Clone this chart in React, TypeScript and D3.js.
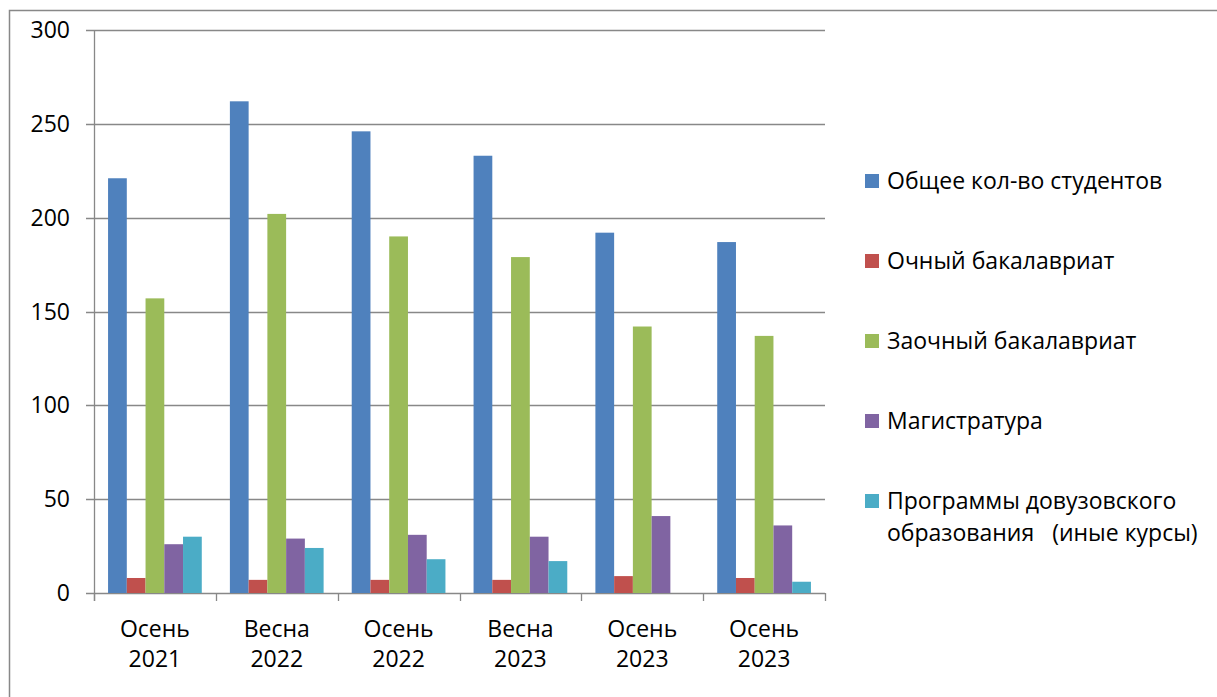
import React, { useEffect, useRef } from 'react';
import * as d3 from 'd3';

// categories (two-line labels)
const periods = ['Осень\n2021', 'Весна\n2022', 'Осень\n2022', 'Весна\n2023', 'Осень\n2023', 'Осень\n2023'];

const seriesNames = [
  'Общее кол-во студентов',
  'Очный бакалавриат',
  'Заочный бакалавриат',
  'Магистратура',
  'Программы довузовского\nобразования   (иные курсы)',
];
const seriesColors = ['#4F81BD', '#C0504D', '#9BBB59', '#8064A2', '#4BACC6'];

const totalStudents = [221, 262, 246, 233, 192, 187];
const fullTimeBachelor = [8, 7, 7, 7, 9, 8];
const extramuralBachelor = [157, 202, 190, 179, 142, 137];
const masters = [26, 29, 31, 30, 41, 36];
const preUniversity = [30, 24, 18, 17, 0, 6];

const yTicks = [0, 50, 100, 150, 200, 250, 300];

const seriesValues = [totalStudents, fullTimeBachelor, extramuralBachelor, masters, preUniversity];

const App: React.FC = () => {
  const svgRef = useRef<SVGSVGElement>(null);

  useEffect(() => {
    if (!svgRef.current) return;
    const width = 1217;
    const height = 697;
    const plot = { left: 94, right: 825, top: 30, bottom: 593 };
    const font = '"Open Sans", sans-serif';
    const fs = 23;
    const gray = '#888888';

    const svg = d3.select(svgRef.current);
    svg.selectAll('*').remove();

    svg.append('rect').attr('width', width).attr('height', height).attr('fill', '#fff');

    // outer chart border (only top and left visible)
    svg.append('path')
      .attr('d', `M9.5,${height + 5} V10.5 H${width + 5}`)
      .attr('fill', 'none').attr('stroke', gray).attr('stroke-width', 1.5);

    const y = d3.scaleLinear().domain([0, 300]).range([plot.bottom, plot.top]);
    const x0 = d3.scaleBand<number>().domain(d3.range(periods.length)).range([plot.left, plot.right]);
    // gap width 150% -> 0.75 bar on each side
    const x1 = d3.scaleBand<number>().domain(d3.range(seriesNames.length))
      .range([0, x0.bandwidth()]).paddingOuter(0.75).paddingInner(0);

    // gridlines + y ticks
    svg.append('g').selectAll('line').data(yTicks).join('line')
      .attr('x1', plot.left - 8).attr('x2', plot.right)
      .attr('y1', d => Math.round(y(d)) + 0.5).attr('y2', d => Math.round(y(d)) + 0.5)
      .attr('stroke', gray).attr('stroke-width', 1.3);

    svg.append('g').selectAll('text').data(yTicks).join('text')
      .attr('x', 70).attr('y', d => y(d)).attr('dy', '0.35em')
      .attr('text-anchor', 'end').attr('font-family', font).attr('font-size', fs).attr('fill', '#000')
      .text(d => d);

    // bars
    const groups = svg.append('g').selectAll('g').data(periods).join('g')
      .attr('transform', (_, i) => `translate(${x0(i)},0)`);
    groups.selectAll('rect')
      .data((_, i) => seriesValues.map((vals, s) => ({ s, v: vals[i] })))
      .join('rect')
      .attr('x', d => x1(d.s)!)
      .attr('width', x1.bandwidth())
      .attr('y', d => y(d.v))
      .attr('height', d => y(0) - y(d.v))
      .attr('fill', d => seriesColors[d.s]);

    // y axis line
    svg.append('line')
      .attr('x1', plot.left + 0.5).attr('x2', plot.left + 0.5)
      .attr('y1', plot.top).attr('y2', plot.bottom + 8)
      .attr('stroke', gray).attr('stroke-width', 1.3);

    // x axis ticks
    const bounds = d3.range(periods.length + 1).map(i => (i < periods.length ? x0(i)! : plot.right));
    svg.append('g').selectAll('line').data(bounds).join('line')
      .attr('x1', d => Math.round(d) + 0.5).attr('x2', d => Math.round(d) + 0.5)
      .attr('y1', plot.bottom).attr('y2', plot.bottom + 8)
      .attr('stroke', gray).attr('stroke-width', 1.3);

    // x labels
    const xl = svg.append('g').selectAll('text').data(periods).join('text')
      .attr('text-anchor', 'middle').attr('font-family', font).attr('font-size', fs).attr('fill', '#000');
    xl.selectAll('tspan').data((d, i) => d.split('\n').map(t => ({ t, i }))).join('tspan')
      .attr('x', d => x0(d.i)! + x0.bandwidth() / 2)
      .attr('y', (_, k) => 629 + k * 30).attr('dy', '0.35em')
      .text(d => d.t);

    // legend
    const legend = svg.append('g').selectAll('g').data(seriesNames).join('g')
      .attr('transform', (_, i) => `translate(865,${181 + i * 80})`);
    legend.append('rect').attr('x', 0).attr('y', -7).attr('width', 14).attr('height', 14)
      .attr('fill', (_, i) => seriesColors[i]);
    const lt = legend.append('text').attr('font-family', font).attr('font-size', fs).attr('fill', '#000');
    lt.selectAll('tspan').data(d => d.split('\n')).join('tspan')
      .attr('x', 22).attr('y', (_, k) => k * 32).attr('dy', '0.35em')
      .attr('xml:space', 'preserve').style('white-space', 'pre')
      .text(d => d);
  }, []);

  return (
    <svg ref={svgRef} width={1217} height={697} style={{ position: 'absolute', left: 0, top: 0 }} />
  );
};

export default App;
